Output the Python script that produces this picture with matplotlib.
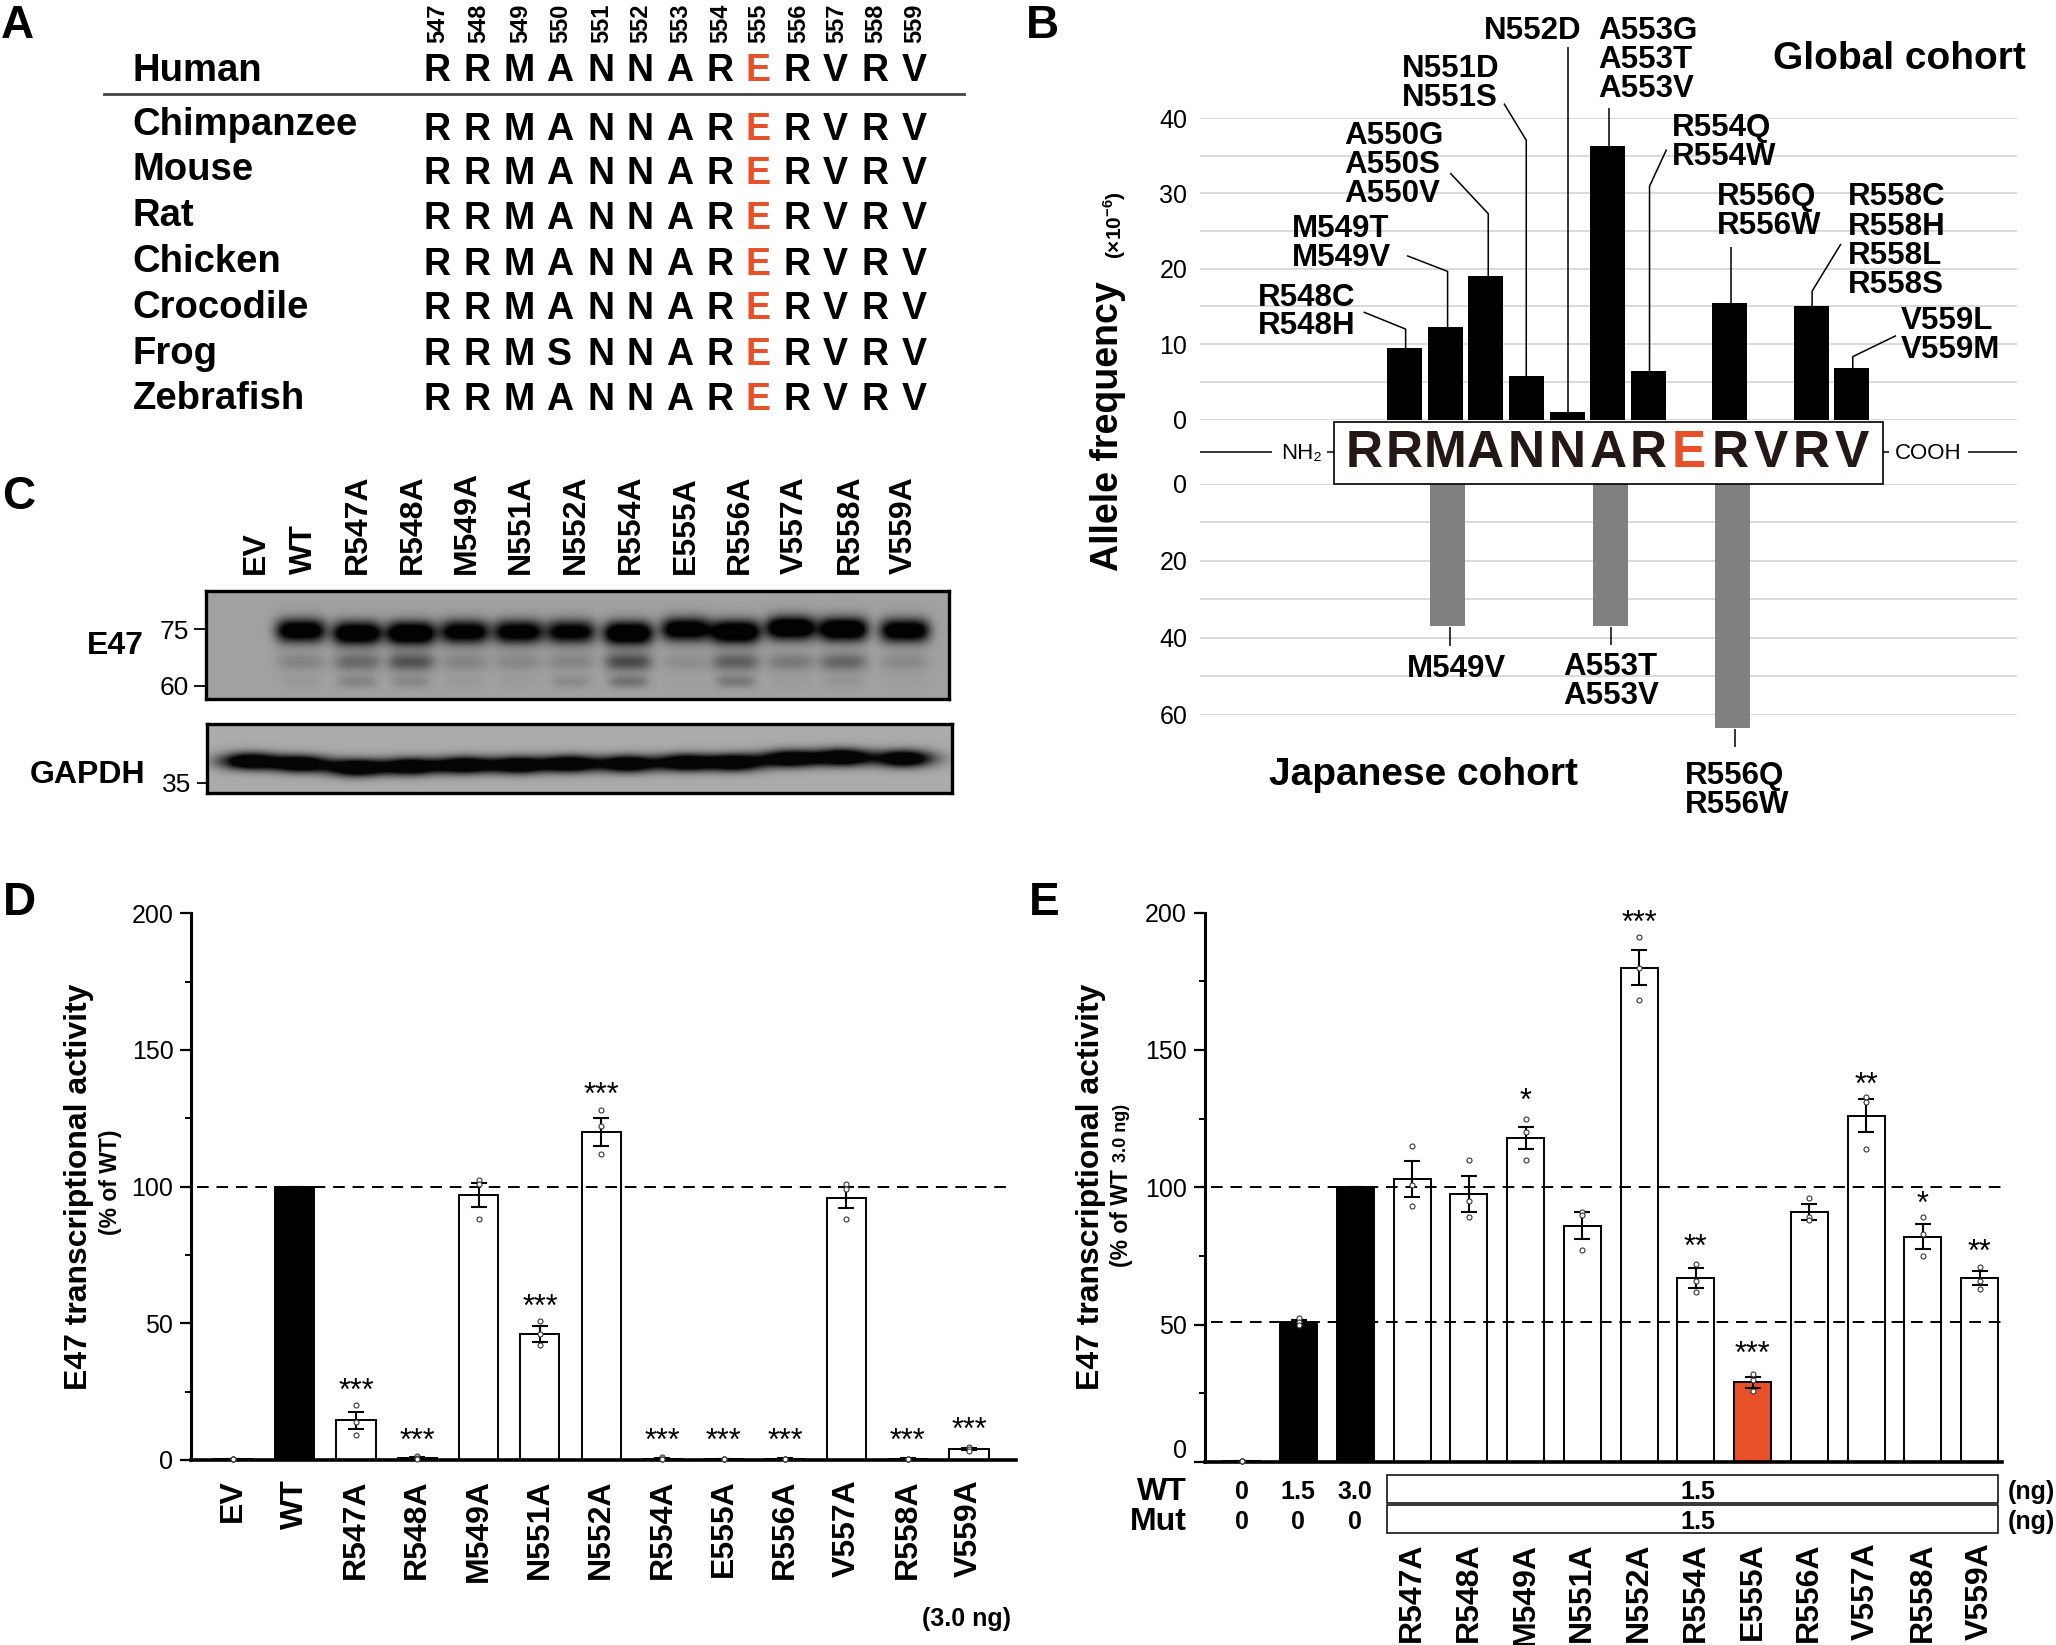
import matplotlib
matplotlib.use("Agg")
import matplotlib.pyplot as plt
from matplotlib.patches import Rectangle
from matplotlib.ticker import MultipleLocator
from matplotlib.transforms import ScaledTranslation
import numpy as np

plt.rcParams['font.family'] = ['Liberation Sans', 'DejaVu Sans']
plt.rcParams['mathtext.fontset'] = 'custom'
plt.rcParams['mathtext.rm'] = 'Liberation Sans'
plt.rcParams['mathtext.bf'] = 'Liberation Sans:bold'

RED = "#e8502a"
W, H = 1568.0, 1254.6  # layout units, the figure is saved 2056 wide

# --- panel A
residues = ["547", "548", "549", "550", "551", "552", "553", "554", "555", "556", "557", "558", "559"]
species = ["Human", "Chimpanzee", "Mouse", "Rat", "Chicken", "Crocodile", "Frog", "Zebrafish"]
sequences = ["RRMANNARERVRV", "RRMANNARERVRV", "RRMANNARERVRV", "RRMANNARERVRV",
             "RRMANNARERVRV", "RRMANNARERVRV", "RRMSNNARERVRV", "RRMANNARERVRV"]

# --- panel B
global_pos = [548, 549, 550, 551, 552, 553, 554, 556, 558, 559]
global_freq = [9.5, 12.3, 19, 5.8, 1, 36.3, 6.4, 15.5, 15, 6.8]
japan_pos = [549, 553, 556]
japan_freq = [37, 37, 63.5]

# --- panel C
blot_lanes = ["EV", "WT", "R547A", "R548A", "M549A", "N551A", "N552A", "R554A", "E555A", "R556A", "V557A", "R558A", "V559A"]
main_band = [0, .9, .95, 1, .85, .85, .8, 1, .9, 1, 1, 1, .9]
sub_band = [0, .18, .35, .5, .18, .16, .18, .55, .12, .42, .25, .38, .15]
low_band = [0, .05, .18, .16, .05, .04, .14, .3, .02, .26, .04, .08, .03]
gapdh_band = [.95, .95, 1, .95, .95, .95, .95, .95, .95, .95, .95, 1, .95]

# --- panel D
d_labels = ["EV", "WT", "R547A", "R548A", "M549A", "N551A", "N552A", "R554A", "E555A", "R556A", "V557A", "R558A", "V559A"]
d_values = [0.5, 100, 14.5, 0.8, 97, 46, 120, 0.5, 0.3, 0.5, 96, 0.5, 4]
d_errors = [0, 0, 3.2, 0.3, 4.5, 3, 5, 0.2, 0, 0.1, 3.8, 0.1, 0.5]
d_points = [[0.2, 0.3, 0.4], [], [20, 14, 9], [1.3, 0.8, 0.5], [102.5, 101, 88], [51, 46, 42],
            [128, 122, 112], [1, 0.5, 0.3], [0.2, 0.3, 0.3], [0.4, 0.5, 0.5], [101, 99, 88], [0.3, 0.5, 0.5], [4.8, 4, 3.4]]
d_stars = ["", "", "***", "***", "", "***", "***", "***", "***", "***", "", "***", "***"]
d_star_y = [0, 0, 25, 6.6, 0, 55.5, 133, 6.6, 6.6, 6.6, 0, 6.6, 10.5]

# --- panel E
e_labels = ["EV", "1.5", "3.0", "R547A", "R548A", "M549A", "N551A", "N552A", "R554A", "E555A", "R556A", "V557A", "R558A", "V559A"]
e_values = [0.5, 51, 100, 103, 97.5, 118, 86, 180, 67, 29, 91, 126, 82, 67]
e_errors = [0, 0.8, 0, 6.5, 6.5, 4, 5, 6.5, 3.5, 2, 3, 6, 4.5, 2.5]
e_points = [[0.3, 0.4, 0.5], [52.5, 51, 50], [], [115, 101, 93], [110, 95, 89], [125, 120, 110],
            [91, 90, 77], [191, 180, 168], [72, 66, 62], [32, 30, 26], [96, 89, 88], [133, 131, 114], [89, 83, 75], [71, 66, 63]]
e_stars = ["", "", "", "", "", "*", "", "***", "**", "***", "", "**", "*", "**"]
e_star_y = [0, 0, 0, 0, 0, 131, 0, 196, 78, 39, 0, 137, 93.5, 76]
wt_doses = ["0", "1.5", "3.0"]
mut_doses = ["0", "0", "0"]


fig = plt.figure(figsize=(20.56, 16.45), dpi=100)


def px_axes(x0, y0, x1, y1, **kw):
    # rectangle given in layout units, y going down
    return fig.add_axes([x0 / W, 1 - y1 / H, (x1 - x0) / W, (y1 - y0) / H], **kw)


# overlay for all the free text and leader lines
ov = px_axes(0, 0, W, H, zorder=10)
ov.set_xlim(0, W)
ov.set_ylim(H, 0)
ov.axis("off")
ov.patch.set_alpha(0)


def label(x, y, s, size=23, weight="bold", ha="left", va="center", **kw):
    # matplotlib centres on the full glyph box, nudge down so caps sit on y
    if kw.get("rotation") is None:
        y = y + 2
    ov.text(x, y, s, fontsize=size, fontweight=weight, ha=ha, va=va, **kw)


def leader(pts, lw=1.1):
    xs, ys = zip(*pts)
    ov.plot(xs, ys, color="black", lw=lw, solid_capstyle="butt")


for s, x, y in zip("ABCDE", [1, 782, 2, 2, 785], [18, 18, 377, 687, 687]):
    label(x, y, s, size=33)

# panel A
seq_x = [333, 364, 396, 427, 458, 488, 518, 549, 578, 608, 637, 667, 697]
seq_y = [52, 97, 131, 165, 200, 234, 269, 303]
for x, r in zip(seq_x, residues):
    label(x + 1, 33, r, size=17, rotation=90, ha="center", va="bottom")
for name, seq, y, ny in zip(species, sequences, seq_y, [52, 93, 128, 163, 198, 233, 268, 302]):
    label(101, ny, name, size=27.5)
    for x, ch in zip(seq_x, seq):
        label(x, y, ch, size=27, ha="center", color=RED if ch == "E" else "black")
ov.plot([79, 735], [72, 72], color="#444444", lw=2)

# panel B, two back to back axes around the sequence box
px_per_res = 31.03
x_at_547 = 1040
xlim_b = [547 + (915 - x_at_547) / px_per_res, 547 + (1538 - x_at_547) / px_per_res]

ax_g = px_axes(915, 90, 1538, 320)
ax_g.bar(global_pos, global_freq, width=0.86, color="black", zorder=3)
ax_g.set_ylim(0, 40)
ax_g.yaxis.set_major_locator(MultipleLocator(5))

ax_j = px_axes(915, 369, 1538, 545)
ax_j.bar(np.array(japan_pos) + 0.07, japan_freq, width=0.86, color="#808080", zorder=3, clip_on=False)
ax_j.set_ylim(60, 0)
ax_j.yaxis.set_major_locator(MultipleLocator(10))

for ax, step, top in ((ax_g, 10, 40), (ax_j, 20, 60)):
    ticks = [t for t in np.arange(0, top + 1, step / 2)]
    ax.set_yticks(ticks)
    ax.set_yticklabels(["" if t % step else str(int(t)) for t in ticks])
    ax.set_xticks([])
    ax.tick_params(axis="y", length=0, pad=9, labelsize=18)
    ax.yaxis.grid(True, color="#cfcfcf", lw=1.1, zorder=0)
    ax.set_axisbelow(True)
    for sp in ax.spines.values():
        sp.set_visible(False)
    ax.patch.set_alpha(0)
    ax.set_xlim(xlim_b)
ax_g.set_ylim(0, 40)
ax_j.set_ylim(60, 0)

ov.add_patch(Rectangle((1017, 322), 419, 47, fc="white", ec="black", lw=1.2))
for p, ch in enumerate(sequences[0]):
    label(x_at_547 + px_per_res * p, 344, ch, size=37, ha="center", color=RED if ch == "E" else "#231815")
for seg in ([(915, 345), (970, 345)], [(1012, 345), (1017, 345)], [(1436, 345), (1441, 345)], [(1501, 345), (1538, 345)]):
    leader(seg)
label(977, 344, "NH₂", size=16, weight="normal")
label(1445, 344, "COOH", size=16, weight="normal")

b_text = [
    (1132, [22], ["N552D"]),
    (1219, [22, 44, 66], ["A553G", "A553T", "A553V"]),
    (1069, [51, 73], ["N551D", "N551S"]),
    (1025, [102, 124, 146], ["A550G", "A550S", "A550V"]),
    (985, [173, 195], ["M549T", "M549V"]),
    (959, [225, 247], ["R548C", "R548H"]),
    (1275, [96, 118], ["R554Q", "R554W"]),
    (1309, [148, 170], ["R556Q", "R556W"]),
    (1409, [148, 171, 193, 215], ["R558C", "R558H", "R558L", "R558S"]),
    (1450, [243, 265], ["V559L", "V559M"]),
    (1073, [508], ["M549V"]),
    (1192, [507, 529], ["A553T", "A553V"]),
    (1285, [590, 612], ["R556Q", "R556W"]),
]
for x, ys, names in b_text:
    for y, n in zip(ys, names):
        label(x, y, n, size=22.5)
label(1352, 43, "Global cohort", size=28)
label(968, 589, "Japanese cohort", size=28)
label(845, 325, "Allele frequency", size=27, rotation=90, ha="center")
label(850, 172, r"(×10$^{\mathbf{-6}}$)", size=15, rotation=90, ha="center")

for pts in ([(1040, 238), (1072, 251), (1072, 266)],
            [(1073, 195), (1104, 207), (1104, 250)],
            [(1106, 132), (1135, 163), (1135, 212)],
            [(1147, 79), (1164, 107), (1164, 287)],
            [(1196, 36), (1196, 315)],
            [(1227, 82), (1227, 112)],
            [(1271, 114), (1258, 142), (1258, 284)],
            [(1320, 188), (1320, 232)],
            [(1404, 186), (1382, 222), (1382, 235)],
            [(1446, 256), (1413, 272), (1413, 283)],
            [(1106, 478), (1106, 493)],
            [(1229, 478), (1229, 492)],
            [(1323, 556), (1323, 570)]):
    leader(pts)

# panel C, blots drawn from the band strengths above
lane_x = np.array([190, 229, 272, 313, 354, 395, 435, 479, 523, 561, 603, 643, 690], dtype=float)
band_y_shift = [0, -1, 1, 1, 0, 0, 0, 1, -2, 0, -3, -2, -1]
gapdh_y = [581, 583, 586, 585, 584, 584, 583, 583, 582, 582, 579, 578, 579]


def band(xx, yy, cx, cy, wx, wy, p=4):
    return np.exp(-np.abs((xx - cx) / wx) ** p - np.abs((yy - cy) / wy) ** 2)


xx, yy = np.meshgrid(np.linspace(157, 724, 560), np.linspace(451, 533, 100))
dark = np.zeros_like(xx)
for cx, sh, a, b, c in zip(lane_x, band_y_shift, main_band, sub_band, low_band):
    dark += a * band(xx, yy, cx, 482 + sh, 19, 9) * 1.5
    dark += b * band(xx, yy, cx, 505, 18, 7)
    dark += c * band(xx, yy, cx, 520, 15, 5)
ax_c1 = px_axes(157, 451, 724, 533)
ax_c1.imshow(0.62 * (1 - np.clip(dark, 0, 1)) + 0.01, cmap="gray", vmin=0, vmax=1, aspect="auto", extent=(157, 724, 533, 451))

xx, yy = np.meshgrid(np.linspace(158, 726, 560), np.linspace(552, 605, 70))
dark = np.zeros_like(xx)
for cx, cy, a in zip(lane_x, gapdh_y, gapdh_band):
    dark += a * band(xx, yy, cx, cy, 22, 6.5, p=2) * 1.6
ax_c2 = px_axes(158, 552, 726, 605)
ax_c2.imshow(0.65 * (1 - np.clip(dark, 0, 1)) + 0.02, cmap="gray", vmin=0, vmax=1, aspect="auto", extent=(158, 726, 605, 552))
for ax in (ax_c1, ax_c2):
    ax.set_xticks([])
    ax.set_yticks([])
    for sp in ax.spines.values():
        sp.set_linewidth(2.4)

for x, name in zip([195, 232, 273, 315, 356, 397, 439, 481, 523, 564, 606, 648, 689], blot_lanes):
    label(x, 438, name, size=23, rotation=90, ha="center", va="bottom")
label(110, 491, "E47", size=23, ha="right")
label(111, 589, "GAPDH", size=23, ha="right")
for y, s, xr in [(480, "75", 144), (523, "60", 144), (597, "35", 146)]:
    label(xr, y, s, size=19, weight="normal", ha="right")
    leader([(xr + 4, y), (xr + 13, y)], lw=1.3)


def activity_bars(ax, values, errors, points, colors, width):
    xs = np.arange(len(values))
    ax.bar(xs, values, width=width, color=colors, edgecolor="black", lw=1.4, zorder=2)
    ax.errorbar(xs, values, yerr=errors, fmt="none", ecolor="black", elinewidth=1.5, capsize=6, capthick=1.5, zorder=4)
    for x, pts in zip(xs, points):
        ax.plot([x] * len(pts), pts, "o", ms=3.6, mfc="white", mec="#333333", mew=0.8, zorder=5, clip_on=False)
    ax.set_ylim(0, 200)
    ax.yaxis.set_major_locator(MultipleLocator(50))
    ax.yaxis.set_minor_locator(MultipleLocator(25))
    ax.tick_params(axis="y", which="major", length=8, width=1.6, labelsize=18, pad=5)
    ax.tick_params(axis="y", which="minor", length=4, width=1.4)
    ax.spines["top"].set_visible(False)
    ax.spines["right"].set_visible(False)
    ax.spines["left"].set_linewidth(2.2)
    ax.spines["bottom"].set_linewidth(2.6)
    ax.patch.set_alpha(0)


# panel D
ax_d = px_axes(146, 696.5, 775, 1113.5)
d_colors = ["black" if n == "WT" else "white" for n in d_labels]
activity_bars(ax_d, d_values, d_errors, d_points, d_colors, 0.64)
ax_d.set_xlim(-0.684, 12.77)
ax_d.plot([-0.6, 12.65], [100, 100], color="black", lw=1.4, dashes=(6, 4), zorder=3)
ax_d.set_xticks(range(len(d_labels)))
ax_d.set_xticklabels(d_labels, rotation=90, fontsize=23, fontweight="bold")
ax_d.tick_params(axis="x", length=0, pad=14)
for x, s, y in zip(range(len(d_labels)), d_stars, d_star_y):
    if s:
        ax_d.text(x, y, s, ha="center", va="center", fontsize=22)
label(60, 905, "E47 transcriptional activity", size=23, rotation=90, ha="center")
label(84, 902, "(% of WT)", size=16.5, rotation=90, ha="center")
label(771, 1233, "(3.0 ng)", size=18, ha="right")

# panel E
ax_e = px_axes(919, 696, 1527, 1115)
e_colors = ["black"] * 3 + ["white"] * 11
e_colors[e_labels.index("E555A")] = RED
activity_bars(ax_e, e_values, e_errors, e_points, e_colors, 0.65)
ax_e.set_xlim(-0.65, 13.4)
for level in (100, 51):
    ax_e.plot([-0.55, 13.4], [level, level], color="black", lw=1.4, dashes=(6, 4), zorder=3)
ax_e.set_xticks(range(3, len(e_labels)))
ax_e.set_xticklabels(e_labels[3:], rotation=90, fontsize=23, fontweight="bold")
ax_e.tick_params(axis="x", length=0, pad=58)
# the 0 of this axis sits a little above the baseline in the original
zero_tick = ax_e.get_yticklabels()[list(ax_e.get_yticks()).index(0)]
zero_tick.set_transform(zero_tick.get_transform() + ScaledTranslation(0, 10 / 72, fig.dpi_scale_trans))
for x, s, y in zip(range(len(e_labels)), e_stars, e_star_y):
    if s:
        ax_e.text(x, y, s, ha="center", va="center", fontsize=22)
label(832, 905, "E47 transcriptional activity", size=23, rotation=90, ha="center")
label(855, 929, "(% of WT", size=16.5, rotation=90, ha="center")
label(855, 864, "3.0 ng)", size=13, rotation=90, ha="center")

for y, y0, name, doses in [(1136, 1125, "WT", wt_doses), (1159, 1148, "Mut", mut_doses)]:
    label(905, y, name, size=23, ha="right")
    for x, d in zip([947, 990, 1033], doses):
        label(x, y, d, size=18, ha="center")
    ov.add_patch(Rectangle((1058, y0), 466, 21, fc="white", ec="black", lw=1.1))
    label(1295, y, "1.5", size=18, ha="center")
    label(1531, y, "(ng)", size=18)

fig.savefig("out.png", dpi=100)
